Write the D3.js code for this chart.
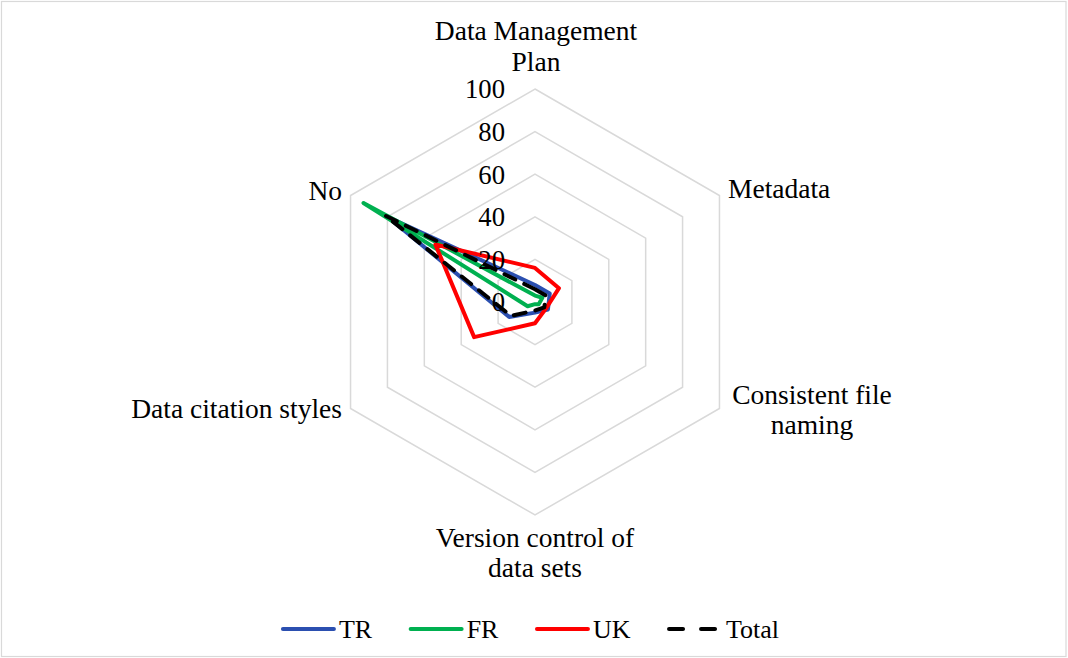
<!DOCTYPE html>
<html>
<head>
<meta charset="utf-8">
<script src="https://cdnjs.cloudflare.com/ajax/libs/d3/7.8.5/d3.min.js"></script>
<style>
  html, body { margin: 0; padding: 0; background: #fff; }
  svg { display: block; font-family: "Liberation Serif", "Times New Roman", serif; }
</style>
</head>
<body>
<svg id="chart" width="1068" height="658"></svg>
<script>
// ---- data ----
const categories = ["Data Management Plan", "Metadata", "Consistent file naming",
                    "Version control of data sets", "Data citation styles", "No"];
const seriesNames = ["TR", "FR", "UK", "Total"];
const TR    = [8, 8, 7, 5, 14, 80];
const FR    = [3, 4, 2, 1, 4, 93];
const UK    = [16, 13, 6, 10, 33, 54];
const Total = [6, 6, 5, 4, 13, 81];
const tickValues = [0, 20, 40, 60, 80, 100];

// ---- layout / style ----
const W = 1068, H = 658;
const cx = 535, cy = 302, R = 213;
const colors = { TR: "#2B4FB0", FR: "#00B050", UK: "#FF0000", Total: "#000000" };
const seriesData = { TR, FR, UK, Total };

const svg = d3.select("#chart");

svg.append("rect")
  .attr("x", 1.5).attr("y", 1.5)
  .attr("width", W - 3.5).attr("height", H - 3)
  .attr("fill", "#fff").attr("stroke", "#d9d9d9").attr("stroke-width", 1.2);

const r = d3.scaleLinear().domain([0, 100]).range([0, R]);
const angle = d3.scaleLinear().domain([0, categories.length]).range([0, 2 * Math.PI]);

const g = svg.append("g").attr("transform", `translate(${cx},${cy})`);

// grid hexagons
const gridLine = d3.lineRadial()
  .angle((d, i) => angle(i))
  .radius(d => r(d))
  .curve(d3.curveLinearClosed);

g.selectAll("path.grid")
  .data(tickValues.filter(t => t > 0))
  .join("path")
  .attr("class", "grid")
  .attr("d", t => gridLine(categories.map(() => t)))
  .attr("fill", "none")
  .attr("stroke", "#d9d9d9")
  .attr("stroke-width", 1.5);

// series
const line = d3.lineRadial()
  .angle((d, i) => angle(i))
  .radius(d => r(d))
  .curve(d3.curveLinearClosed);

seriesNames.forEach(name => {
  const p = g.append("path")
    .attr("d", line(seriesData[name]))
    .attr("fill", "none")
    .attr("stroke", colors[name])
    .attr("stroke-width", 4)
    .attr("stroke-linejoin", "round")
    .attr("stroke-linecap", "round");
  if (name === "Total") p.attr("stroke-dasharray", "12,10");
});

// tick labels
g.selectAll("text.tick")
  .data(tickValues)
  .join("text")
  .attr("class", "tick")
  .attr("x", -30)
  .attr("y", t => -r(t))
  .attr("dy", "0.35em")
  .attr("text-anchor", "end")
  .attr("font-size", 26.7)
  .attr("fill", "#000")
  .text(t => t);

// category labels
const labelLayout = [
  { lines: ["Data Management", "Plan"], x: 536, y: [40, 70.5], anchor: "middle" },
  { lines: ["Metadata"], x: 728, y: [198], anchor: "start" },
  { lines: ["Consistent file", "naming"], x: 812, y: [403.5, 434], anchor: "middle" },
  { lines: ["Version control of", "data sets"], x: 535, y: [546.5, 577], anchor: "middle" },
  { lines: ["Data citation styles"], x: 342, y: [418], anchor: "end" },
  { lines: ["No"], x: 342, y: [200], anchor: "end" }
];
labelLayout.forEach((L, i) => {
  const t = svg.append("text")
    .attr("text-anchor", L.anchor)
    .attr("font-size", 27.5)
    .attr("fill", "#000")
    .attr("data-category", categories[i]);
  L.lines.forEach((ln, j) => {
    t.append("tspan").attr("x", L.x).attr("y", L.y[j]).text(ln);
  });
});

// legend
const legend = svg.append("g");
const legendY = 629;
let lx = 0;
seriesNames.forEach(name => {
  const it = legend.append("g");
  const ln = it.append("line")
    .attr("x1", lx).attr("x2", lx + 51)
    .attr("y1", legendY).attr("y2", legendY)
    .attr("stroke", colors[name]).attr("stroke-width", 4)
    .attr("stroke-linecap", "round");
  if (name === "Total") ln.attr("stroke-dasharray", "14,18");
  const tx = it.append("text")
    .attr("x", lx + (name === "Total" ? 57 : 56))
    .attr("y", legendY + 9)
    .attr("font-size", 26)
    .attr("fill", "#000")
    .text(name);
  lx = lx + 56 + tx.node().getComputedTextLength() + 38.5;
});
const lb = legend.node().getBBox();
legend.attr("transform", `translate(${531 - (lb.x + lb.width / 2)},0)`);
</script>
</body>
</html>
